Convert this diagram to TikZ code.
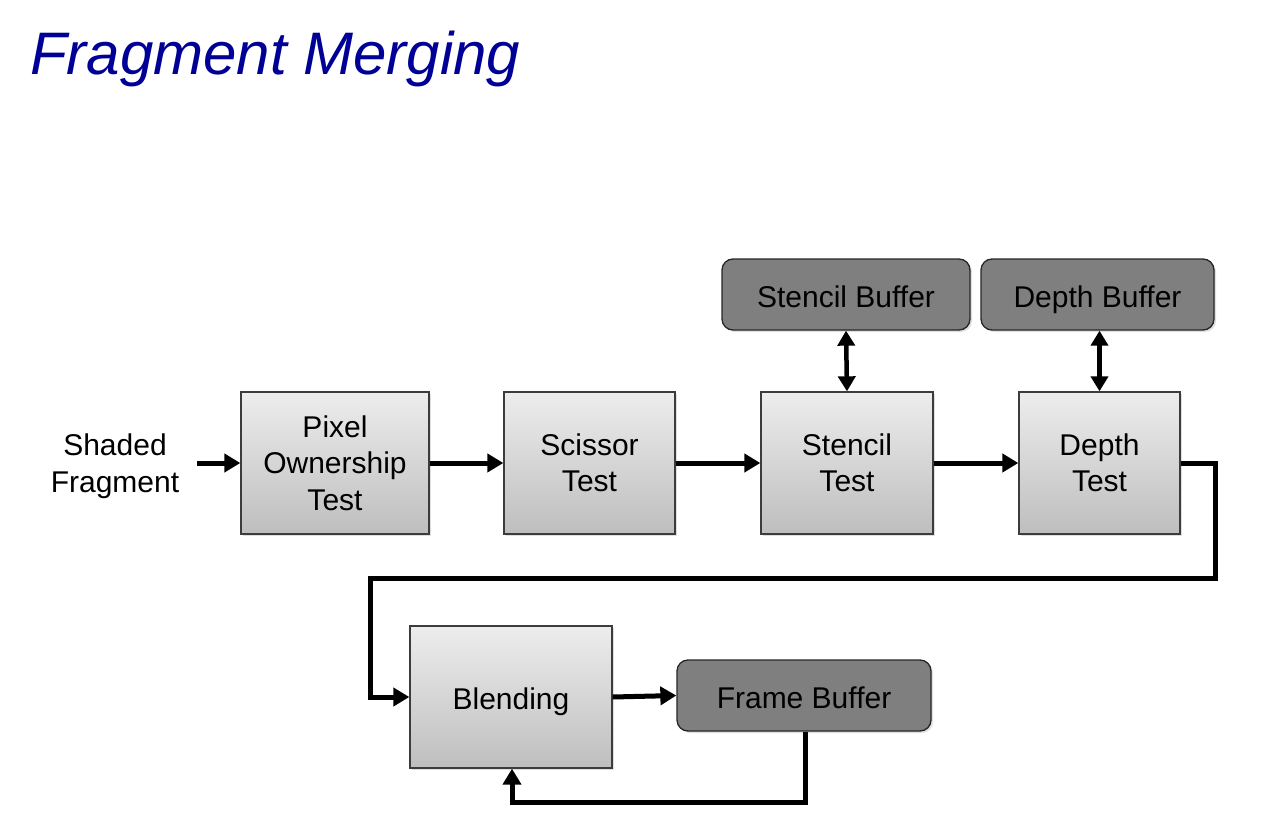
\documentclass[tikz,border=0pt]{standalone}
\usepackage{fontspec}
\setmainfont{Liberation Sans}
\usetikzlibrary{arrows.meta,shadows}
\definecolor{titleblue}{RGB}{0,0,150}
\definecolor{boxtop}{RGB}{237,237,237}
\definecolor{boxbot}{RGB}{190,190,190}
\definecolor{bufgray}{RGB}{127,127,127}
\definecolor{edgegray}{RGB}{60,60,60}
\tikzset{
  stage/.style={draw=edgegray, line width=1.3pt, top color=boxtop, bottom color=boxbot,
    minimum height=142pt, inner sep=0pt, align=center,
    font=\fontsize{30}{36.5}\selectfont,
    drop shadow={opacity=0.25, shadow xshift=2pt, shadow yshift=-2pt}},
  oneline/.style={text height=25pt, text depth=0pt},
  buffer/.style={draw=black!85, line width=1.3pt, fill=bufgray, rounded corners=11pt,
    minimum height=71pt, inner sep=0pt, align=center, oneline,
    font=\fontsize{30}{36}\selectfont,
    drop shadow={opacity=0.25, shadow xshift=2pt, shadow yshift=-2pt}},
  flow/.style={line width=5pt, line join=miter, -{Triangle[length=16pt,width=18pt]}},
  both/.style={line width=4.5pt, {Triangle[length=15pt,width=17pt]}-{Triangle[length=15pt,width=17pt]}},
  plain/.style={align=center, font=\fontsize{30}{37}\selectfont}
}
\begin{document}
\begin{tikzpicture}[x=1pt,y=-1pt]
\useasboundingbox (0,0) rectangle (1288,824);
\node[anchor=base west, text=titleblue, inner sep=0pt,
  font=\fontsize{60}{62}\selectfont\itshape] (title) at (30,75) {Fragment Merging};

\node[plain] (sf) at (115,466) {Shaded\\Fragment};
\coordinate (sfout) at (197,463);

\node[stage, minimum width=188pt] (pot) at (335,463) {Pixel\\Ownership\\Test};
\node[stage, minimum width=171pt] (sc) at (589.5,463) {Scissor\\Test};
\node[stage, minimum width=172pt] (st) at (847,463) {Stencil\\Test};
\node[stage, minimum width=161pt] (dt) at (1099.5,463) {Depth\\Test};

\node[buffer, minimum width=248pt] (sb) at (846,294.5) {Stencil Buffer};
\node[buffer, minimum width=233pt] (db) at (1097.5,294.5) {Depth Buffer};

\node[stage, oneline, minimum width=202pt] (bl) at (511,697) {Blending};
\node[buffer, minimum width=254pt] (fb) at (804,695.5) {Frame Buffer};

\coordinate (c1) at (1215,578);
\coordinate (c2) at (370,578);
\coordinate (c3) at (805,802);
\coordinate (c4) at (512,802);

\draw[flow] (sfout) -- (pot.west);
\draw[flow] (pot.east) -- (sc.west);
\draw[flow] (sc.east) -- (st.west);
\draw[flow] (st.east) -- (dt.west);
\draw[both] (sb.south) -- (st.north);
\draw[both] (db.south -| dt.north) -- (dt.north);
\draw[flow] (dt.east) -| (c1) -- (c2) |- (bl.west);
\draw[flow] (bl.east) -- (fb.west);
\draw[flow] (fb.south -| c3) -- (c3) -- (c4) -- (bl.south -| c4);
\end{tikzpicture}
\end{document}
